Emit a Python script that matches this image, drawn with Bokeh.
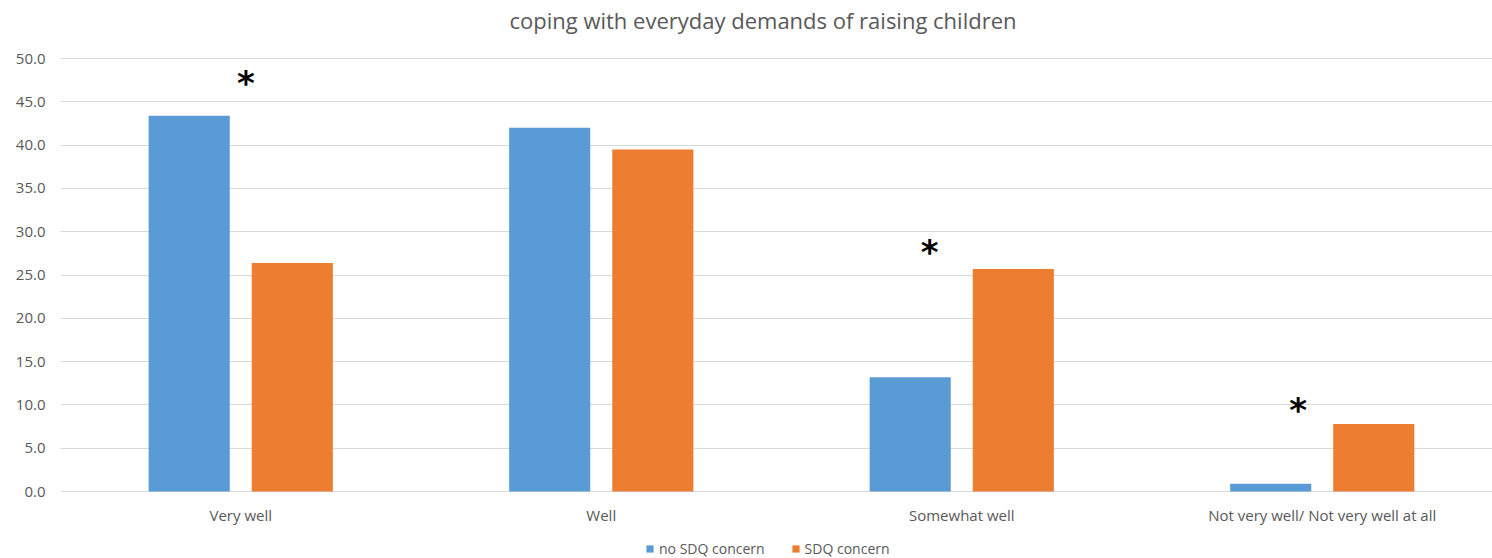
from bokeh.plotting import figure
from bokeh.models import Range1d, Legend, LegendItem, NumeralTickFormatter, FixedTicker
from bokeh.transform import dodge
from bokeh.core.properties import value
from bokeh.embed import file_html
from bokeh.resources import INLINE

categories = ["Very well", "Well", "Somewhat well", "Not very well/ Not very well at all"]
no_sdq = [43.4, 42.0, 13.2, 0.9]
sdq = [26.4, 39.5, 25.7, 7.8]
star_cats = ["Very well", "Somewhat well", "Not very well/ Not very well at all"]
star_y = [47.5, 28.0, 9.8]
star_shift = [0.014, -0.089, -0.067]
title_text = "coping with everyday demands of raising children"
y_ticks = [0, 5, 10, 15, 20, 25, 30, 35, 40, 45, 50]

GRAY = "#595959"
FONT = "Open Sans"

W, H = 1492, 558
LEFT = 60
ZERO_PX, TOP_PX = 491, 58          # pixel rows of y=0 and y=50
CAT_PX = 360.5                     # pixels per category
ppu = (ZERO_PX - TOP_PX) / 50.0

pos = [i + 0.5 for i in range(len(categories))]
pos_of = dict(zip(categories, pos))

y0 = -(H - ZERO_PX) / ppu
y1 = 50 + TOP_PX / ppu
x1 = (W - LEFT) / CAT_PX

p = figure(x_range=Range1d(0, x1), y_range=Range1d(y0, y1),
           width=W, height=H, output_backend="svg", toolbar_location=None,
           x_axis_location=None,
           min_border_left=LEFT, min_border_right=0, min_border_top=0, min_border_bottom=0)
p.outline_line_color = None
p.background_fill_color = "white"

src = dict(x=pos, a=no_sdq, b=sdq)
r1 = p.vbar(x=dodge("x", -0.143), top="a", width=0.225, source=src,
            fill_color="#5B9BD5", line_color=None)
r2 = p.vbar(x=dodge("x", 0.143), top="b", width=0.225, source=src,
            fill_color="#ED7D31", line_color=None)

for c, y, s in zip(star_cats, star_y, star_shift):
    p.text(x=dodge("x", s), y="y", text=value("*"),
           source=dict(x=[pos_of[c]], y=[y]), text_align="center", text_baseline="middle",
           text_font=value("DejaVu Sans"), text_font_size="34px", text_font_style="bold",
           text_color="black", y_offset=3)

# category labels under the zero line
p.text(x="x", y=value(0), text="t", source=dict(x=pos, t=categories),
       text_align="center", text_baseline="middle", y_offset=23,
       text_font=value(FONT), text_font_size="15px", text_color=GRAY)

# chart title
p.text(x=value((762.5 - LEFT) / CAT_PX), y=value(y1), text=value(title_text),
       text_align="center", text_baseline="middle", y_offset=19,
       text_font=value(FONT), text_font_size="22px", text_color=GRAY)

p.xgrid.grid_line_color = None
p.ygrid.grid_line_color = "#d9d9d9"
p.ygrid.grid_line_width = 1
p.ygrid.ticker = FixedTicker(ticks=y_ticks)

p.yaxis.ticker = FixedTicker(ticks=y_ticks)
p.yaxis.formatter = NumeralTickFormatter(format="0.0")
p.yaxis.axis_line_color = None
p.yaxis.major_tick_line_color = None
p.yaxis.minor_tick_line_color = None
p.yaxis.major_label_text_color = GRAY
p.yaxis.major_label_text_font = FONT
p.yaxis.major_label_text_font_size = "15px"
p.yaxis.major_label_standoff = 9

legend = Legend(items=[LegendItem(label="no SDQ concern", renderers=[r1]),
                       LegendItem(label="SDQ concern", renderers=[r2])],
                orientation="horizontal", location=(645 - LEFT, 0),
                label_text_font=FONT, label_text_font_size="14px", label_text_color=GRAY,
                glyph_width=9, glyph_height=9, label_standoff=5, spacing=26,
                label_height=16,
                border_line_color=None, background_fill_alpha=0, padding=0, margin=0)
p.add_layout(legend, "center")

open("out.html", "w").write(file_html(p, INLINE))
